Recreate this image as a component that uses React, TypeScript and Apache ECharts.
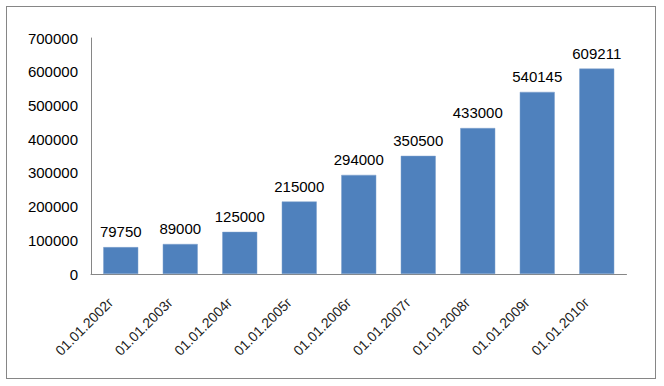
import React, { useEffect, useRef } from "react";
import * as echarts from "echarts";

const categories = [
  "01.01.2002г",
  "01.01.2003г",
  "01.01.2004г",
  "01.01.2005г",
  "01.01.2006г",
  "01.01.2007г",
  "01.01.2008г",
  "01.01.2009г",
  "01.01.2010г",
];
const values = [79750, 89000, 125000, 215000, 294000, 350500, 433000, 540145, 609211];

export default function App() {
  const ref = useRef<HTMLDivElement>(null);
  useEffect(() => {
    const chart = echarts.init(ref.current!, undefined, { renderer: "svg" });
    chart.setOption({
      animation: false,
      grid: { left: 91, right: 37.5, top: 38, bottom: 112 },
      xAxis: {
        type: "category",
        data: categories,
        axisLine: { lineStyle: { color: "#868686", width: 1 } },
        axisTick: { show: false },
        axisLabel: {
          rotate: 45,
          interval: 0,
          margin: 16,
          padding: [0, 14, 0, 0],
          color: "#222",
          fontFamily: "Liberation Sans",
          fontSize: 14,
        },
      },
      yAxis: {
        type: "value",
        min: 0,
        max: 700000,
        interval: 100000,
        axisLine: { show: true, lineStyle: { color: "#868686", width: 1 } },
        axisTick: { show: false },
        splitLine: { show: false },
        axisLabel: {
          color: "#000",
          fontFamily: "Liberation Sans",
          fontSize: 15,
          margin: 13,
          formatter: (v: number) => String(v),
        },
      },
      series: [
        {
          type: "bar",
          data: values,
          barWidth: 35,
          itemStyle: { color: "#4F81BD", borderColor: "#7EA0CC", borderWidth: 0.5 },
          label: {
            show: true,
            position: "top",
            distance: 8,
            color: "#000",
            fontFamily: "Liberation Sans",
            fontSize: 15,
          },
        },
      ],
    });
    return () => chart.dispose();
  }, []);
  return (
    <div
      style={{
        position: "absolute",
        left: 6,
        top: 6,
        width: 650,
        height: 373,
        border: "1px solid #868686",
        boxSizing: "border-box",
        background: "#fff",
      }}
    >
      <div ref={ref} style={{ position: "absolute", left: -7, top: -7, width: 664, height: 386 }} />
    </div>
  );
}
